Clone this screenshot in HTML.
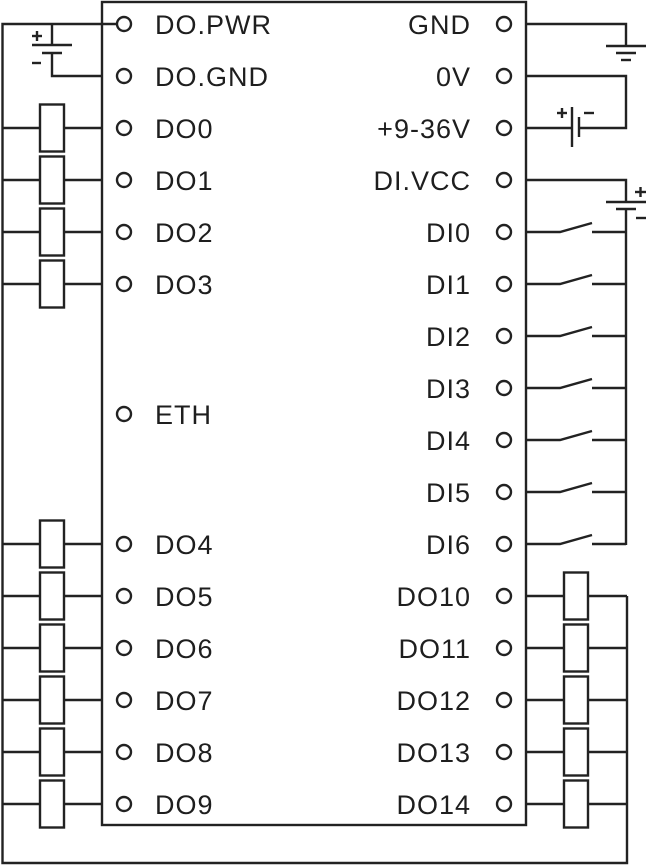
<!DOCTYPE html>
<html>
<head>
<meta charset="utf-8">
<style>
  html, body { margin: 0; padding: 0; background: #ffffff; }
  svg { display: block; }
  text { font-family: "Liberation Sans", Arial, sans-serif; font-size: 27px; fill: #1e1e1e; letter-spacing: 1px; }
</style>
</head>
<body>
<svg width="646" height="866" viewBox="0 0 646 866" xmlns="http://www.w3.org/2000/svg">
  <g stroke="#222222" stroke-width="2.4" fill="none" stroke-linecap="butt">
    <!-- main box -->
    <rect x="102" y="2" width="424" height="823"/>

    <!-- left rail + bottom rail + right rail -->
    <polyline points="117,24 2.5,24 2.5,863 627,863 627,596"/>

    <!-- left battery DO.PWR / DO.GND -->
    <line x1="52" y1="24" x2="52" y2="45"/>
    <line x1="32" y1="45" x2="72" y2="45"/>
    <line x1="42" y1="53" x2="62" y2="53"/>
    <polyline points="52,53 52,76 102,76"/>
    <line x1="32" y1="36" x2="42" y2="36"/>
    <line x1="37" y1="31" x2="37" y2="41"/>
    <line x1="32" y1="63" x2="41" y2="63"/>

    <!-- left resistors -->
    <line x1="2.5" y1="128" x2="40" y2="128"/><line x1="64" y1="128" x2="102" y2="128"/><rect x="40" y="104.5" width="24" height="47"/>
    <line x1="2.5" y1="180" x2="40" y2="180"/><line x1="64" y1="180" x2="102" y2="180"/><rect x="40" y="156.5" width="24" height="47"/>
    <line x1="2.5" y1="232" x2="40" y2="232"/><line x1="64" y1="232" x2="102" y2="232"/><rect x="40" y="208.5" width="24" height="47"/>
    <line x1="2.5" y1="284" x2="40" y2="284"/><line x1="64" y1="284" x2="102" y2="284"/><rect x="40" y="260.5" width="24" height="47"/>
    <line x1="2.5" y1="544" x2="40" y2="544"/><line x1="64" y1="544" x2="102" y2="544"/><rect x="40" y="520.5" width="24" height="47"/>
    <line x1="2.5" y1="596" x2="40" y2="596"/><line x1="64" y1="596" x2="102" y2="596"/><rect x="40" y="572.5" width="24" height="47"/>
    <line x1="2.5" y1="648" x2="40" y2="648"/><line x1="64" y1="648" x2="102" y2="648"/><rect x="40" y="624.5" width="24" height="47"/>
    <line x1="2.5" y1="700" x2="40" y2="700"/><line x1="64" y1="700" x2="102" y2="700"/><rect x="40" y="676.5" width="24" height="47"/>
    <line x1="2.5" y1="752" x2="40" y2="752"/><line x1="64" y1="752" x2="102" y2="752"/><rect x="40" y="728.5" width="24" height="47"/>
    <line x1="2.5" y1="804" x2="40" y2="804"/><line x1="64" y1="804" x2="102" y2="804"/><rect x="40" y="780.5" width="24" height="47"/>

    <!-- right resistors -->
    <line x1="526" y1="596" x2="564" y2="596"/><line x1="588" y1="596" x2="627" y2="596"/><rect x="564" y="572.5" width="24" height="47"/>
    <line x1="526" y1="648" x2="564" y2="648"/><line x1="588" y1="648" x2="627" y2="648"/><rect x="564" y="624.5" width="24" height="47"/>
    <line x1="526" y1="700" x2="564" y2="700"/><line x1="588" y1="700" x2="627" y2="700"/><rect x="564" y="676.5" width="24" height="47"/>
    <line x1="526" y1="752" x2="564" y2="752"/><line x1="588" y1="752" x2="627" y2="752"/><rect x="564" y="728.5" width="24" height="47"/>
    <line x1="526" y1="804" x2="564" y2="804"/><line x1="588" y1="804" x2="627" y2="804"/><rect x="564" y="780.5" width="24" height="47"/>

    <!-- GND -->
    <polyline points="526,24 626,24 626,46"/>
    <line x1="606" y1="46" x2="646" y2="46"/>
    <line x1="616" y1="53" x2="636" y2="53"/>
    <line x1="621" y1="60" x2="631" y2="60"/>

    <!-- 0V / +9-36V battery -->
    <polyline points="526,76 626,76 626,128 579,128"/>
    <line x1="526" y1="128" x2="572" y2="128"/>
    <line x1="572" y1="107" x2="572" y2="147"/>
    <line x1="579" y1="117" x2="579" y2="137"/>
    <line x1="557" y1="113" x2="567" y2="113"/>
    <line x1="562" y1="108" x2="562" y2="118"/>
    <line x1="584" y1="113" x2="594" y2="113"/>

    <!-- DI.VCC battery -->
    <polyline points="526,180 626,180 626,202"/>
    <line x1="606" y1="202" x2="646" y2="202"/>
    <line x1="616" y1="209" x2="636" y2="209"/>
    <line x1="626" y1="209" x2="626" y2="545"/>
    <line x1="635" y1="192" x2="646" y2="192"/>
    <line x1="640.5" y1="187" x2="640.5" y2="197"/>
    <line x1="636" y1="218" x2="646" y2="218"/>

    <!-- switches -->
    <polyline points="526,232 560,232 592,223"/><line x1="592" y1="232" x2="626" y2="232"/>
    <polyline points="526,284 560,284 592,275"/><line x1="592" y1="284" x2="626" y2="284"/>
    <polyline points="526,336 560,336 592,327"/><line x1="592" y1="336" x2="626" y2="336"/>
    <polyline points="526,388 560,388 592,379"/><line x1="592" y1="388" x2="626" y2="388"/>
    <polyline points="526,440 560,440 592,431"/><line x1="592" y1="440" x2="626" y2="440"/>
    <polyline points="526,492 560,492 592,483"/><line x1="592" y1="492" x2="626" y2="492"/>
    <polyline points="526,544 560,544 592,535"/><line x1="592" y1="544" x2="626" y2="544"/>

    <!-- left terminals -->
    <circle cx="124" cy="24" r="7"/>
    <circle cx="124" cy="76" r="7"/>
    <circle cx="124" cy="128" r="7"/>
    <circle cx="124" cy="180" r="7"/>
    <circle cx="124" cy="232" r="7"/>
    <circle cx="124" cy="284" r="7"/>
    <circle cx="124" cy="414" r="7"/>
    <circle cx="124" cy="544" r="7"/>
    <circle cx="124" cy="596" r="7"/>
    <circle cx="124" cy="648" r="7"/>
    <circle cx="124" cy="700" r="7"/>
    <circle cx="124" cy="752" r="7"/>
    <circle cx="124" cy="804" r="7"/>

    <!-- right terminals -->
    <circle cx="504" cy="24" r="7"/>
    <circle cx="504" cy="76" r="7"/>
    <circle cx="504" cy="128" r="7"/>
    <circle cx="504" cy="180" r="7"/>
    <circle cx="504" cy="232" r="7"/>
    <circle cx="504" cy="284" r="7"/>
    <circle cx="504" cy="336" r="7"/>
    <circle cx="504" cy="388" r="7"/>
    <circle cx="504" cy="440" r="7"/>
    <circle cx="504" cy="492" r="7"/>
    <circle cx="504" cy="544" r="7"/>
    <circle cx="504" cy="596" r="7"/>
    <circle cx="504" cy="648" r="7"/>
    <circle cx="504" cy="700" r="7"/>
    <circle cx="504" cy="752" r="7"/>
    <circle cx="504" cy="804" r="7"/>
  </g>

  <!-- left labels -->
  <g>
    <text x="155" y="34">DO.PWR</text>
    <text x="155" y="86">DO.GND</text>
    <text x="155" y="138">DO0</text>
    <text x="155" y="190">DO1</text>
    <text x="155" y="242">DO2</text>
    <text x="155" y="294">DO3</text>
    <text x="155" y="424">ETH</text>
    <text x="155" y="554">DO4</text>
    <text x="155" y="606">DO5</text>
    <text x="155" y="658">DO6</text>
    <text x="155" y="710">DO7</text>
    <text x="155" y="762">DO8</text>
    <text x="155" y="814">DO9</text>
  </g>

  <!-- right labels -->
  <g text-anchor="end">
    <text x="471" y="34">GND</text>
    <text x="471" y="86">0V</text>
    <text x="471" y="138">+9-36V</text>
    <text x="471" y="190">DI.VCC</text>
    <text x="471" y="242">DI0</text>
    <text x="471" y="294">DI1</text>
    <text x="471" y="346">DI2</text>
    <text x="471" y="398">DI3</text>
    <text x="471" y="450">DI4</text>
    <text x="471" y="502">DI5</text>
    <text x="471" y="554">DI6</text>
    <text x="471" y="606">DO10</text>
    <text x="471" y="658">DO11</text>
    <text x="471" y="710">DO12</text>
    <text x="471" y="762">DO13</text>
    <text x="471" y="814">DO14</text>
  </g>
</svg>
</body>
</html>
